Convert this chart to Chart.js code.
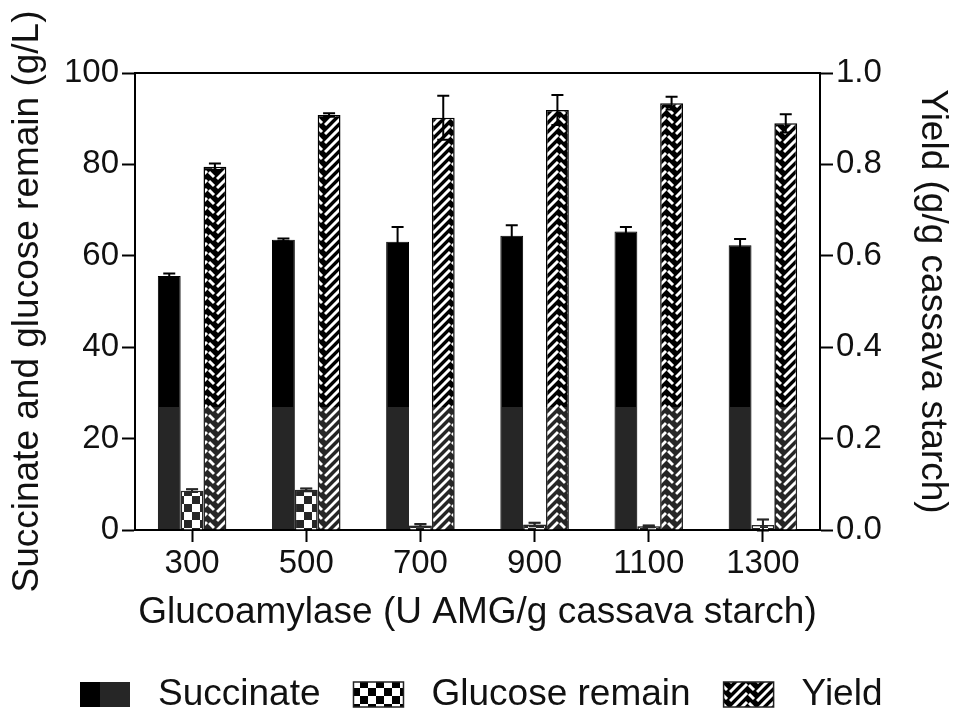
<!DOCTYPE html>
<html>
<head>
<meta charset="utf-8">
<title>Glucoamylase dosage</title>
<script src="https://cdn.jsdelivr.net/npm/chart.js@4.4.1/dist/chart.umd.min.js"></script>
<style>
    html, body { margin: 0; padding: 0; background: #fff; }
    #wrap { width: 954px; height: 715px; position: relative; }
</style>
</head>
<body>
<div id="wrap"><canvas id="chart" width="954" height="715"></canvas></div>
<script>
// data
const dosages = ['300', '500', '700', '900', '1100', '1300'];
const succinate = [55.6, 63.5, 63.1, 64.4, 65.3, 62.3];
const succinateErr = [0.5, 0.3, 3.2, 2.3, 1.0, 1.4];
const glucoseRemain = [8.6, 8.8, 1.0, 1.2, 0.8, 1.1];
const glucoseErr = [0.3, 0.3, 0.3, 0.4, 0.2, 1.2];
const yieldValues = [0.795, 0.908, 0.902, 0.919, 0.934, 0.890];
const yieldErr = [0.007, 0.004, 0.048, 0.033, 0.014, 0.020];
const leftTicks = [0, 20, 40, 60, 80, 100];
const rightTicks = [0, 0.2, 0.4, 0.6, 0.8, 1.0];

const FONT = '"Liberation Sans", Arial, Helvetica, sans-serif';
const INK = '#111';

// checkerboard fill for glucose
function makeChecker() {
    const c = document.createElement('canvas');
    c.width = 16; c.height = 16;
    const g = c.getContext('2d');
    g.fillStyle = '#fff';
    g.fillRect(0, 0, 16, 16);
    g.fillStyle = '#000';
    g.fillRect(0, 0, 8, 8);
    g.fillRect(8, 8, 8, 8);
    return g.createPattern(c, 'repeat');
}

// herringbone-ish hatch for yield
function makeHatch() {
    const s = 27;
    const c = document.createElement('canvas');
    c.width = s; c.height = s;
    const g = c.getContext('2d');
    g.fillStyle = '#000';
    g.fillRect(0, 0, s, s);
    g.strokeStyle = '#fff';
    g.lineWidth = 3;
    g.lineCap = 'butt';
    for (let a = -s; a <= 2 * s; a += 9) {
        for (let dx = -s; dx <= s; dx += s) {
            g.beginPath();
            g.moveTo(dx + 1, a - 1);
            g.lineTo(dx + 18, a - 18);
            g.stroke();
            g.beginPath();
            g.moveTo(dx + 20, a - 17);
            g.lineTo(dx + 25, a - 12);
            g.stroke();
        }
    }
    return g.createPattern(c, 'repeat');
}

const checker = makeChecker();
const hatch = makeHatch();

const errors = [succinateErr, glucoseErr, yieldErr];

// error bars, then the light wash that sits over the lower part of the scan
const errorBarPlugin = {
    id: 'errorBars',
    beforeDraw(chart) {
        const ctx = chart.ctx;
        ctx.save();
        ctx.fillStyle = '#fff';
        ctx.fillRect(0, 0, chart.width, chart.height);
        ctx.restore();
    },
    afterDatasetsDraw(chart) {
        const ctx = chart.ctx;
        ctx.save();
        ctx.strokeStyle = '#000';
        ctx.lineWidth = 2;
        chart.data.datasets.forEach((ds, i) => {
            const meta = chart.getDatasetMeta(i);
            const scale = chart.scales[ds.yAxisID];
            meta.data.forEach((bar, j) => {
                const v = ds.data[j];
                const e = errors[i][j];
                const yTop = scale.getPixelForValue(v + e);
                const yBot = scale.getPixelForValue(v - e);
                const x = bar.x;
                ctx.beginPath();
                ctx.moveTo(x, yBot);
                ctx.lineTo(x, yTop);
                ctx.moveTo(x - 6, yTop);
                ctx.lineTo(x + 6, yTop);
                ctx.moveTo(x - 6, yBot);
                ctx.lineTo(x + 6, yBot);
                ctx.stroke();
            });
        });
        ctx.restore();

        const area = chart.chartArea;
        ctx.save();
        ctx.globalCompositeOperation = 'lighten';
        ctx.fillStyle = '#262626';
        ctx.fillRect(area.left + 2, 407, area.right - area.left - 4, area.bottom - 408);
        ctx.restore();
    },
    afterDraw(chart) {
        const ctx = chart.ctx;
        const area = chart.chartArea;
        ctx.save();
        // top frame
        ctx.strokeStyle = '#000';
        ctx.lineWidth = 2;
        ctx.beginPath();
        ctx.moveTo(area.left, area.top);
        ctx.lineTo(area.right, area.top);
        ctx.stroke();

        // legend
        const items = [
            { text: 'Succinate', fill: '#262626', split: true },
            { text: 'Glucose remain', fill: checker },
            { text: 'Yield', fill: hatch }
        ];
        ctx.font = '37px ' + FONT;
        ctx.textBaseline = 'middle';
        let x = 80;
        const yc = 694;
        items.forEach(it => {
            ctx.fillStyle = it.fill;
            ctx.fillRect(x, yc - 12, 50, 25);
            if (it.split) {
                ctx.fillStyle = '#000';
                ctx.fillRect(x, yc - 12, 20, 25);
            } else {
                ctx.strokeStyle = '#222';
                ctx.lineWidth = 1.5;
                ctx.strokeRect(x, yc - 12, 50, 25);
            }
            x += 50 + 28;
            ctx.fillStyle = INK;
            ctx.fillText(it.text, x, yc + 1);
            x += ctx.measureText(it.text).width + 33;
        });
        ctx.restore();
    }
};

const axisGrid = {
    drawOnChartArea: false,
    drawTicks: true,
    tickLength: 13,
    tickWidth: 2,
    tickColor: '#000'
};

new Chart(document.getElementById('chart'), {
    type: 'bar',
    data: {
        labels: dosages,
        datasets: [
            {
                label: 'Succinate',
                data: succinate,
                yAxisID: 'y',
                backgroundColor: '#000',
                borderColor: '#000',
                borderWidth: 1
            },
            {
                label: 'Glucose remain',
                data: glucoseRemain,
                yAxisID: 'y',
                backgroundColor: checker,
                borderColor: '#000',
                borderWidth: 1.5
            },
            {
                label: 'Yield',
                data: yieldValues,
                yAxisID: 'y1',
                backgroundColor: hatch,
                borderColor: '#000',
                borderWidth: 1.5
            }
        ]
    },
    options: {
        responsive: false,
        animation: false,
        categoryPercentage: 0.6,
        barPercentage: 1.0,
        layout: { padding: { top: 73, bottom: 75, left: 0, right: 0 } },
        plugins: {
            legend: { display: false },
            tooltip: { enabled: false }
        },
        scales: {
            x: {
                offset: true,
                grid: Object.assign({}, axisGrid, { offset: false, tickLength: 12 }),
                border: { display: true, color: '#000', width: 2 },
                ticks: { color: INK, font: { family: FONT, size: 33 }, padding: 2, maxRotation: 0 },
                title: {
                    display: true,
                    text: 'Glucoamylase (U AMG/g cassava starch)',
                    color: INK,
                    font: { family: FONT, size: 37 },
                    padding: { top: 4, bottom: 5 }
                },
                afterFit(scale) { scale.height = 110; }
            },
            y: {
                position: 'left',
                min: 0,
                max: 100,
                afterBuildTicks(scale) { scale.ticks = leftTicks.map(v => ({ value: v })); },
                grid: axisGrid,
                border: { display: true, color: '#000', width: 2 },
                ticks: { color: INK, font: { family: FONT, size: 33 }, padding: 3 },
                title: {
                    display: true,
                    text: 'Succinate and glucose remain (g/L)',
                    color: INK,
                    font: { family: FONT, size: 37 },
                    padding: { top: 6, bottom: 0 }
                },
                afterFit(scale) { scale.width = 135; }
            },
            y1: {
                position: 'right',
                min: 0,
                max: 1,
                afterBuildTicks(scale) { scale.ticks = rightTicks.map(v => ({ value: v })); },
                grid: axisGrid,
                border: { display: true, color: '#000', width: 2 },
                ticks: {
                    color: INK,
                    font: { family: FONT, size: 33 },
                    padding: 3,
                    callback: v => Number(v).toFixed(1)
                },
                title: {
                    display: true,
                    text: 'Yield (g/g cassava starch)',
                    color: INK,
                    font: { family: FONT, size: 37 },
                    padding: { top: 0, bottom: 0 }
                },
                afterFit(scale) { scale.width = 134; }
            }
        }
    },
    plugins: [errorBarPlugin]
});
</script>
</body>
</html>
